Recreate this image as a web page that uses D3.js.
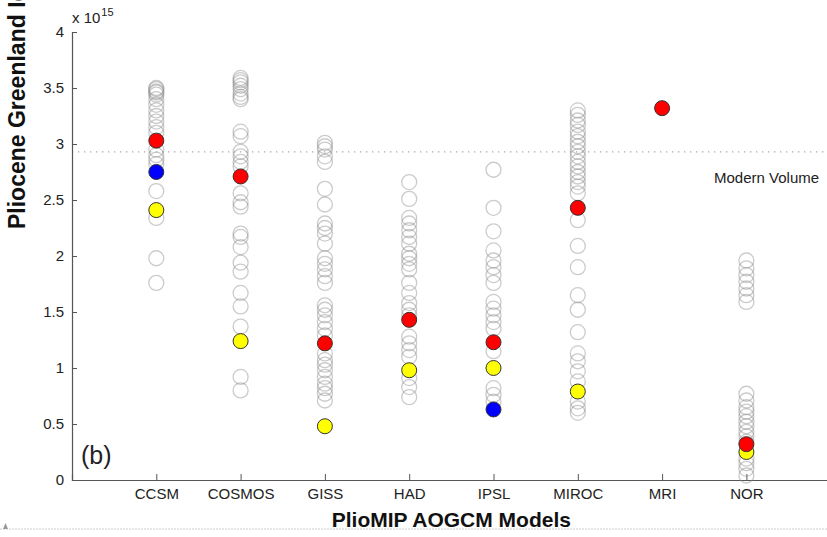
<!DOCTYPE html>
<html>
<head>
<meta charset="utf-8">
<script src="https://cdn.jsdelivr.net/npm/d3@7"></script>
<style>
  html, body { margin: 0; padding: 0; background: #fff; }
  svg { display: block; font-family: "Liberation Sans", Arial, Helvetica, sans-serif; }
</style>
</head>
<body>
<svg id="chart" width="827" height="537"></svg>
<script>
// Greenland ice volume (x 10^15 m^3) simulated with each PlioMIP AOGCM climate
const models = ["CCSM", "COSMOS", "GISS", "HAD", "IPSL", "MIROC", "MRI", "NOR"];

// Ice-sheet model ensemble members (open grey circles)
const ensembleCCSM = [3.50, 3.49, 3.47, 3.46, 3.44, 3.40, 3.35, 3.30, 3.25, 3.20, 3.15, 3.10,
  2.95, 2.90, 2.86, 2.82, 2.58, 2.34, 1.98, 1.76];
const ensembleCOSMOS = [3.59, 3.57, 3.55, 3.52, 3.49, 3.45, 3.42, 3.40, 3.11, 3.07, 2.93, 2.89,
  2.84, 2.80, 2.56, 2.48, 2.44, 2.20, 2.17, 2.08, 1.94, 1.86, 1.67, 1.55, 1.37, 0.92, 0.80];
const ensembleGISS = [3.01, 2.98, 2.95, 2.89, 2.84, 2.60, 2.46, 2.29, 2.25, 2.20, 2.11, 1.98,
  1.93, 1.88, 1.82, 1.76, 1.56, 1.52, 1.47, 1.41, 1.35, 1.29, 1.13, 1.07, 1.03, 0.98, 0.92,
  0.86, 0.82, 0.77, 0.71];
const ensembleHAD = [2.66, 2.51, 2.34, 2.29, 2.23, 2.17, 2.11, 2.02, 1.98, 1.93, 1.88, 1.76,
  1.67, 1.58, 1.52, 1.47, 1.28, 1.22, 1.16, 1.10, 0.91, 0.83, 0.74];
const ensembleIPSL = [2.77, 2.43, 2.22, 2.05, 1.96, 1.90, 1.83, 1.76, 1.59, 1.53, 1.47, 1.41,
  1.35, 1.15, 0.82, 0.76, 0.70];
const ensembleMIROC = [3.30, 3.26, 3.21, 3.17, 3.11, 3.07, 3.02, 2.98, 2.93, 2.89, 2.84, 2.80,
  2.75, 2.71, 2.66, 2.62, 2.56, 2.32, 2.09, 1.90, 1.65, 1.52, 1.32, 1.13, 1.06, 0.97, 0.88,
  0.70, 0.64, 0.60];
const ensembleMRI = [];
const ensembleNOR = [1.96, 1.89, 1.83, 1.77, 1.71, 1.65, 1.59, 0.77, 0.71, 0.65, 0.61, 0.57,
  0.52, 0.48, 0.43, 0.39, 0.34, 0.19, 0.15, 0.10, 0.04];

// Highlighted simulations (null where a model has none)
const redValues    = [3.03, 2.71, 1.22, 1.43, 1.23, 2.43, 3.32, 0.32];
const yellowValues = [2.41, 1.24, 0.48, 0.98, 1.00, 0.79, null, 0.25];
const blueValues   = [2.75, null, null, null, 0.63, null, null, null];

const modernVolume = 2.93;
const yTicks = [0, 0.5, 1, 1.5, 2, 2.5, 3, 3.5, 4];

const ensembles = [ensembleCCSM, ensembleCOSMOS, ensembleGISS, ensembleHAD,
  ensembleIPSL, ensembleMIROC, ensembleMRI, ensembleNOR];

const svg = d3.select("#chart");
const plotLeft = 72, plotBottom = 480, plotTop = 32, step = 84.3;

const x = d3.scaleLinear().domain([0, models.length + 1])
  .range([plotLeft, plotLeft + step * (models.length + 1)]);
const y = d3.scaleLinear().domain([0, 4]).range([plotBottom, plotTop]);
const axisColor = "#555";
const textColor = "#222";

// Modern volume reference line
svg.append("line")
  .attr("x1", x(0)).attr("x2", 827)
  .attr("y1", y(modernVolume)).attr("y2", y(modernVolume))
  .attr("stroke", "#aaa").attr("stroke-width", 1.3)
  .attr("stroke-dasharray", "1.3 4.7");
svg.append("text")
  .attr("x", 714).attr("y", y(modernVolume) + 31)
  .attr("font-size", 15).attr("fill", textColor)
  .text("Modern Volume");

// Y axis
const yAxis = svg.append("g")
  .attr("transform", `translate(${plotLeft},0)`)
  .call(d3.axisLeft(y).tickValues(yTicks).tickSize(-5).tickPadding(8)
    .tickFormat(d => d3.format("")(d)));
yAxis.select(".domain").attr("stroke", axisColor).attr("stroke-width", 1.2);
yAxis.selectAll(".tick line").attr("stroke", axisColor);
yAxis.selectAll(".tick text").attr("font-size", 15).attr("fill", textColor)
  .attr("font-family", "Liberation Sans, Arial, sans-serif");

// X axis
const xAxis = svg.append("g")
  .attr("transform", `translate(0,${plotBottom})`)
  .call(d3.axisBottom(x).tickValues(d3.range(1, models.length + 1)).tickSize(-6).tickPadding(8)
    .tickFormat(i => models[i - 1]));
xAxis.select(".domain").attr("stroke", axisColor).attr("stroke-width", 1.2);
xAxis.selectAll(".tick line").attr("stroke", axisColor);
xAxis.selectAll(".tick text").attr("font-size", 15).attr("fill", textColor)
  .attr("font-family", "Liberation Sans, Arial, sans-serif");

// Exponent label
const expo = svg.append("text").attr("x", plotLeft).attr("y", 23)
  .attr("font-size", 15).attr("fill", textColor);
expo.append("tspan").text("x 10");
expo.append("tspan").attr("dx", 1).attr("dy", -7).attr("font-size", 11).text("15");

// Ensemble members
const r = 7.5;
const ensembleRows = ensembles.flatMap((vals, i) => vals.map(v => ({ i: i + 1, v })));
svg.append("g").selectAll("circle").data(ensembleRows).join("circle")
  .attr("cx", d => x(d.i)).attr("cy", d => y(d.v)).attr("r", r)
  .attr("fill", "none").attr("stroke", "#8c8c8c").attr("stroke-opacity", 0.45)
  .attr("stroke-width", 1.3);

// Highlighted simulations
function highlight(values, color) {
  const rows = values.map((v, i) => ({ i: i + 1, v })).filter(d => d.v !== null);
  svg.append("g").selectAll("circle").data(rows).join("circle")
    .attr("cx", d => x(d.i)).attr("cy", d => y(d.v)).attr("r", r)
    .attr("fill", color).attr("stroke", "#333").attr("stroke-width", 1);
}
highlight(blueValues, "#0000ff");
highlight(yellowValues, "#ffff00");
highlight(redValues, "#ff0000");

// Panel label
svg.append("text").attr("x", 81).attr("y", 464)
  .attr("font-size", 25).attr("fill", textColor).text("(b)");

// Axis titles
svg.append("text")
  .attr("x", (x(1) + x(models.length)) / 2).attr("y", 527)
  .attr("text-anchor", "middle").attr("font-size", 21).attr("font-weight", "bold")
  .attr("fill", "#111").text("PlioMIP AOGCM Models");
svg.append("text")
  .attr("transform", "translate(25,229) rotate(-90)")
  .attr("font-size", 23).attr("font-weight", "bold").attr("fill", "#111")
  .text("Pliocene Greenland Ice Sheet Volume (m³)");

// Page edge rule below the figure
svg.append("line").attr("x1", 0).attr("x2", 827).attr("y1", 529).attr("y2", 529)
  .attr("stroke", "#ccc").attr("stroke-width", 1).attr("stroke-dasharray", "2 1");
svg.append("path").attr("d", "M3,529 L5.5,523 L8,529 Z").attr("fill", "#999");
</script>
</body>
</html>
